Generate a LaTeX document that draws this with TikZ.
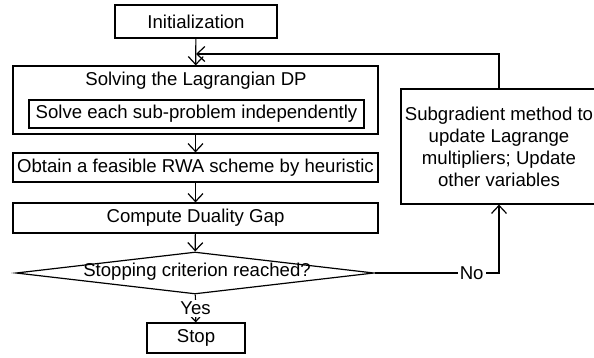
\documentclass[tikz,border=0pt]{standalone}
\usepackage{fontspec}
\setmainfont{Liberation Sans}
\usepackage{tikz}
\usetikzlibrary{arrows.meta, shapes.geometric}

\tikzset{
  box/.style={draw, rectangle, inner sep=0pt, line width=0.6pt},
  flow/.style={line width=0.6pt, -{Straight Barb[length=4pt, width=7.5pt, line width=0.6pt]}},
  lbl/.style={fill=white, inner sep=1pt}
}

\begin{document}
\begin{tikzpicture}[x=0.5pt, y=-0.5pt, font=\fontsize{9.3}{11}\selectfont]
    % 1. canvas
    \useasboundingbox (0,0) rectangle (594,358);

    % 2. left column of steps
    \node[box, minimum width=81pt, minimum height=16.5pt] (init) at (196,21.5) {Initialization};
    \node[box, minimum width=182.5pt, minimum height=34pt] (lagr) at (195.5,100) {};
    \node (lagrtitle) at (196,81) {Solving the Lagrangian DP};
    \node[box, minimum width=167.5pt, minimum height=14pt] (sub) at (196.5,114) {Solve each sub-problem independently};
    \node[box, minimum width=182.5pt, minimum height=14.5pt] (obtain) at (195.5,167.5) {Obtain a feasible RWA scheme by heuristic};
    \node[box, minimum width=182.5pt, minimum height=15pt] (dual) at (195.5,218) {Compute Duality Gap};
    \node[draw, diamond, aspect=1, inner sep=0pt, line width=0.6pt,
          minimum width=179pt, minimum height=21pt] (check) at (195,273) {};
    \node (checktext) at (197,272) {Stopping criterion reached?};
    \node[box, minimum width=49pt, minimum height=15pt] (stop) at (196,338) {Stop};

    % 3. update step on the right
    \node[box, minimum width=98pt, minimum height=57.5pt, align=center] (update) at (499,146.5)
        {Subgradient method to\\ update Lagrange\\ multipliers; Update\\ other variables};

    % 4. connectors
    \coordinate (merge) at (196,54);
    \draw[flow] (init) -- (lagr);
    \draw[flow] (lagr) -- (obtain);
    \draw[flow] (obtain) -- (dual);
    \draw[flow] (dual) -- (check);
    \draw[flow] (check) -- node[lbl, pos=0.5] {Yes} (stop);
    \draw[flow] (check.east) -| node[lbl, pos=0.39] {No} (update.south);
    \draw[flow] (update.north) |- (merge);
\end{tikzpicture}
\end{document}
